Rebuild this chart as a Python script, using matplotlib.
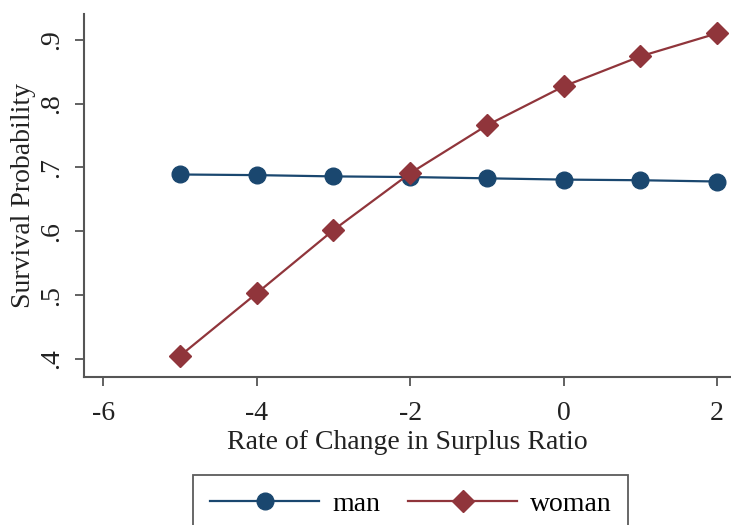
import matplotlib
matplotlib.use("Agg")
import matplotlib.pyplot as plt

# values
rate = [-5, -4, -3, -2, -1, 0, 1, 2]
man = [0.689, 0.688, 0.686, 0.685, 0.683, 0.681, 0.680, 0.678]
woman = [0.405, 0.503, 0.602, 0.691, 0.766, 0.827, 0.874, 0.910]
xticks = [-6, -4, -2, 0, 2]
yticks = [0.4, 0.5, 0.6, 0.7, 0.8, 0.9]
ylabels = [".4", ".5", ".6", ".7", ".8", ".9"]

plt.rcParams['font.family'] = ['Liberation Serif', 'DejaVu Serif']

fig = plt.figure(figsize=(7.31, 5.25), dpi=100)
ax = fig.add_axes([0.115, 0.282, 0.885, 0.691])

navy = '#1a476f'
maroon = '#90353b'
ax.plot(rate, man, color=navy, lw=1.6, marker='o', ms=12, label='man')
ax.plot(rate, woman, color=maroon, lw=1.6, marker='D', ms=11.5, label='woman')

ax.set_xlim(-6.25, 2.18)
ax.set_ylim(0.372, 0.94)
ax.set_xticks(xticks)
ax.set_xticklabels([str(t) for t in xticks])
ax.set_yticks(yticks)
ax.set_yticklabels(ylabels, rotation=90, va='center')

for s in ['top', 'right']:
    ax.spines[s].set_visible(False)
for s in ['left', 'bottom']:
    ax.spines[s].set_color('#555555')
    ax.spines[s].set_linewidth(1.5)
ax.tick_params(colors='#555555', labelcolor='#222222', labelsize=20,
               length=6.5, width=1.3)
ax.tick_params(axis='x', pad=11)
ax.tick_params(axis='y', pad=8)

ax.set_xlabel('Rate of Change in Surplus Ratio', fontsize=20, color='#222222', labelpad=3)
ax.set_ylabel('Survival Probability', fontsize=20, color='#222222', labelpad=2)

leg = fig.legend(loc='upper left', bbox_to_anchor=(193 / 731, 1 - 475 / 525),
                 borderaxespad=0, ncol=2, fontsize=20, frameon=True,
                 fancybox=False, edgecolor='#333333', handlelength=3.95,
                 columnspacing=1.0, borderpad=0.6, handletextpad=0.45)
leg.get_frame().set_linewidth(1.3)

fig.savefig('out.png', dpi=100)
